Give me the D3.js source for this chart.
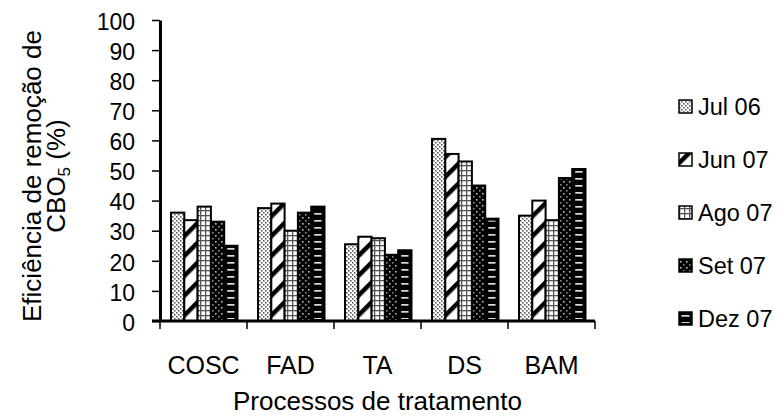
<!DOCTYPE html>
<html>
<head>
<meta charset="utf-8">
<script src="https://cdn.jsdelivr.net/npm/d3@7"></script>
<style>
  html, body { margin: 0; padding: 0; background: #fff; }
  svg { display: block; font-family: "Liberation Sans", Arial, sans-serif; }
</style>
</head>
<body>
<svg id="chart" width="784" height="416"></svg>
<script>
// Treatment processes (x categories)
const categories = ["COSC", "FAD", "TA", "DS", "BAM"];
// Sampling campaigns (series)
const seriesNames = ["Jul 06", "Jun 07", "Ago 07", "Set 07", "Dez 07"];
// BOD5 removal efficiency (%) per campaign, one value per process
const jul06 = [36, 37.5, 25.5, 60.5, 35];
const jun07 = [33.5, 39, 28, 55.5, 40];
const ago07 = [38, 30, 27.5, 53, 33.5];
const set07 = [33, 36, 22, 45, 47.5];
const dez07 = [25, 38, 23.5, 34, 50.5];
const seriesValues = [jul06, jun07, ago07, set07, dez07];
const yTicks = [0, 10, 20, 30, 40, 50, 60, 70, 80, 90, 100];

const svg = d3.select("#chart");
const defs = svg.append("defs");

// Fill patterns, one per series
function pat(id, w, h, bg) {
  const p = defs.append("pattern").attr("id", id)
    .attr("patternUnits", "userSpaceOnUse").attr("width", w).attr("height", h);
  if (bg) p.append("rect").attr("width", w).attr("height", h).attr("fill", bg);
  return p;
}
// Jul 06: fine diamond/check dots
{
  const p = pat("p0", 4, 4, "#fff");
  p.append("rect").attr("x", 0).attr("y", 0).attr("width", 1.5).attr("height", 1.5).attr("fill", "#555");
  p.append("rect").attr("x", 2).attr("y", 2).attr("width", 1.5).attr("height", 1.5).attr("fill", "#555");
  p.append("rect").attr("x", 1).attr("y", 1).attr("width", 1).attr("height", 1).attr("fill", "#bbb");
  p.append("rect").attr("x", 3).attr("y", 3).attr("width", 1).attr("height", 1).attr("fill", "#bbb");
}
// Jun 07: wide upward diagonal stripes
{
  const p = defs.append("pattern").attr("id", "p1")
    .attr("patternUnits", "userSpaceOnUse").attr("width", 14).attr("height", 14)
    .attr("patternTransform", "rotate(45)");
  p.append("rect").attr("width", 14).attr("height", 14).attr("fill", "#fff");
  p.append("rect").attr("x", 0).attr("y", 0).attr("width", 4.5).attr("height", 14).attr("fill", "#000");
}
// Ago 07: grey grid
{
  const p = pat("p2", 5, 5, "#fff");
  p.append("rect").attr("x", 0).attr("y", 0).attr("width", 5).attr("height", 1.3).attr("fill", "#555");
  p.append("rect").attr("x", 0).attr("y", 0).attr("width", 1.3).attr("height", 5).attr("fill", "#555");
}
// Set 07: dark field with light dots
{
  const p = pat("p3", 6, 6, "#000");
  p.append("rect").attr("x", 1).attr("y", 1).attr("width", 1.6).attr("height", 1.6).attr("fill", "#bbb");
  p.append("rect").attr("x", 4).attr("y", 4).attr("width", 1.6).attr("height", 1.6).attr("fill", "#888");
}
// Dez 07: dark field; light horizontal dashes are laid over an inset area
{
  const p = pat("p4", 40, 7, null);
  p.append("rect").attr("x", 0).attr("y", 3).attr("width", 40).attr("height", 1.7).attr("fill", "#ddd");
}
const fills = ["url(#p0)", "url(#p1)", "url(#p2)", "url(#p3)", "#000"];
const DEZ = seriesNames.length - 1;

const plotLeft = 160, plotRight = 595, plotTop = 20, plotBottom = 321;

const y = d3.scaleLinear().domain([0, 100]).range([plotBottom, plotTop]);
const x0 = d3.scaleBand().domain(categories).range([plotLeft, plotRight]).padding(0);
const x1 = d3.scaleBand().domain(seriesNames).range([11, x0.bandwidth() - 9.5]).padding(0);

// Bars
const groups = svg.append("g").selectAll("g").data(categories).join("g")
  .attr("transform", d => `translate(${x0(d)},0)`);
const barData = (c, ci) => seriesNames.map((s, si) => ({ s, si, v: seriesValues[si][ci] }));
groups.selectAll("rect.bar")
  .data(barData)
  .join("rect").attr("class", "bar")
  .attr("x", d => x1(d.s))
  .attr("y", d => y(d.v))
  .attr("width", x1.bandwidth())
  .attr("height", d => y(0) - y(d.v))
  .attr("fill", d => fills[d.si])
  .attr("stroke", "#000")
  .attr("stroke-width", 2);
// dashes for the Dez 07 bars, kept clear of the bar sides
groups.selectAll("rect.dash")
  .data((c, ci) => barData(c, ci).filter(d => d.si === DEZ))
  .join("rect").attr("class", "dash")
  .attr("x", d => x1(d.s) + 3)
  .attr("y", d => y(d.v) + 2)
  .attr("width", x1.bandwidth() - 6)
  .attr("height", d => Math.max(0, y(0) - y(d.v) - 4))
  .attr("fill", "url(#p4)");

// Y axis
const yAxis = svg.append("g").attr("transform", `translate(${plotLeft},0)`)
  .call(d3.axisLeft(y).tickValues(yTicks).tickSize(8).tickSizeOuter(0).tickPadding(17));
yAxis.select(".domain").attr("stroke-width", 3);
yAxis.selectAll(".tick line").attr("stroke-width", 1.5);
yAxis.selectAll("text").attr("font-size", 23).attr("fill", "#000").attr("dy", "0.4em")
  .attr("font-family", "Liberation Sans, Arial, sans-serif");

// X axis: ticks sit between the category groups
const xAxis = svg.append("g").attr("transform", `translate(0,${plotBottom})`);
xAxis.append("line").attr("x1", plotLeft - 8).attr("x2", plotRight).attr("y1", 0).attr("y2", 0)
  .attr("stroke", "#000").attr("stroke-width", 3);
xAxis.selectAll("line.t").data(categories.concat(["end"])).join("line").attr("class", "t")
  .attr("x1", d => d === "end" ? plotRight : x0(d))
  .attr("x2", d => d === "end" ? plotRight : x0(d))
  .attr("y1", 0).attr("y2", 8).attr("stroke", "#000").attr("stroke-width", 1.5);
xAxis.selectAll("text").data(categories).join("text")
  .attr("x", d => x0(d) + x0.bandwidth() / 2)
  .attr("y", 53)
  .attr("text-anchor", "middle")
  .attr("font-size", 25)
  .text(d => d);

// Axis titles
svg.append("text")
  .attr("x", (plotLeft + plotRight) / 2).attr("y", 410)
  .attr("text-anchor", "middle").attr("font-size", 26)
  .text("Processos de tratamento");

const yt = svg.append("text")
  .attr("transform", "translate(0,176) rotate(-90)")
  .attr("text-anchor", "middle").attr("font-size", 26);
yt.append("tspan").attr("x", 0).attr("y", 41).text("Eficiência de remoção de");
const l2 = yt.append("tspan").attr("x", 0).attr("y", 65);
l2.append("tspan").text("CBO");
l2.append("tspan").attr("font-size", 17).attr("dy", 5).text("5");
l2.append("tspan").attr("dy", -5).text(" (%)");

// Legend
const legend = svg.append("g").selectAll("g").data(seriesNames).join("g")
  .attr("transform", (d, i) => `translate(679,${107 + i * 53})`);
legend.append("rect").attr("x", 0).attr("y", -7).attr("width", 13).attr("height", 13)
  .attr("fill", (d, i) => fills[i]).attr("stroke", "#000").attr("stroke-width", 1.5);
legend.filter((d, i) => i === DEZ).append("rect")
  .attr("x", 2.5).attr("y", -5).attr("width", 8).attr("height", 9).attr("fill", "url(#p4)");
legend.append("text").attr("x", 19).attr("y", 8).attr("font-size", 23.5).text(d => d);
</script>
</body>
</html>
